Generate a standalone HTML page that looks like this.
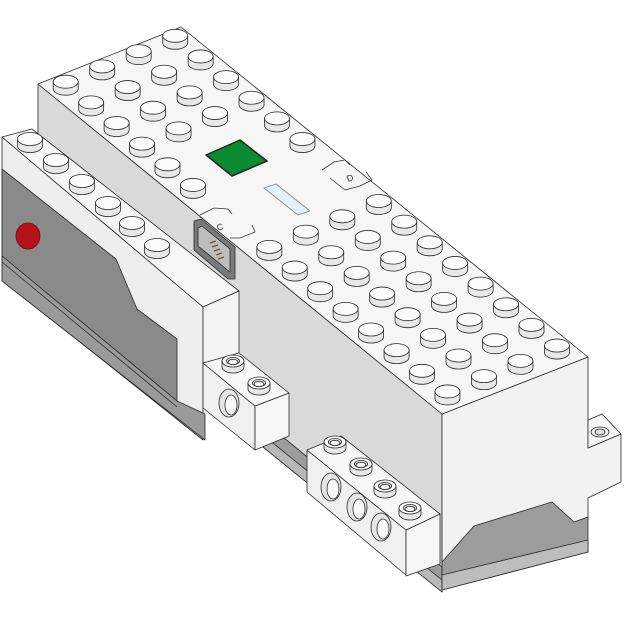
<!DOCTYPE html>
<html><head><meta charset="utf-8"><style>
html,body{margin:0;padding:0;background:#fff;}
svg{display:block;}
text{font-family:"Liberation Sans",sans-serif;}
</style></head><body>
<svg id="art" width="625" height="625" viewBox="0 0 625 625" stroke="#2a2a2a" stroke-width="0.8" stroke-linejoin="round">
  <!-- gray base under main front -->
  <polygon points="200,369 442,567 442,592 200,396" fill="#9c9c9c"/>
  <polygon points="200,384 442,580 442,592 200,396" fill="#b8b8b8"/>
  <!-- main block -->
  <polygon points="38,84 442,414 442,567 38,237" fill="#d9d9d9"/>
  <polygon points="442,414 588,357 588,448 621,434 621,482 588,498 588,520 442,580" fill="#f2f2f2"/>
  <polygon points="442,562 474,526 552,502 574,522 588,517 588,552 442,590" fill="#9c9c9c"/>
  <polygon points="442,575 588,540 588,552 442,590" fill="#bdbdbd"/>
  <polygon points="588,420 602,414 621,434 588,448" fill="#f6f6f6"/>
  <ellipse cx="600" cy="432" rx="9" ry="5" fill="#f4f4f4"/>
  <ellipse cx="600" cy="432" rx="5" ry="3" fill="#e0e0e0"/>
  <polygon points="38,84 181,27 588,357 442,414" fill="#f6f6f6"/>
  <g id="studs"></g>
  <polygon points="206,155 240,140 267,161 232,176" fill="#0b8a32" stroke="#222" stroke-width="1.5"/>
  <polygon points="264,188 276,184 310,211 298,215" fill="#e4f2f8" stroke="#888"/>
  <g fill="none" stroke="#333" stroke-width="0.8">
    <polyline points="322,170 334,162 345,160 350,165"/>
    <polyline points="330,178 345,190 360,186 372,180 366,172"/>
    <text x="348" y="182" font-size="9" fill="#333" stroke="none" transform="rotate(-20 348 182)">D</text>
  </g>
  <g fill="none" stroke="#333" stroke-width="0.8">
    <polyline points="200,215 214,208 228,209 232,214"/>
    <polyline points="230,238 240,238 255,232 252,225"/>
    <text x="218" y="231" font-size="9" fill="#333" stroke="none" transform="rotate(-20 218 231)">C</text>
  </g>
  <polygon points="194,221 201,219 235,247 235,279 228,279 194,250" fill="#7a7a7a"/>
  <polygon points="198,228 202,226 230,249 230,272 198,246" fill="#bdbdbd"/>
  <g stroke="#6b5a2a" stroke-width="1.2">
    <line x1="210" y1="243" x2="216" y2="241"/><line x1="212" y1="247" x2="218" y2="245"/>
    <line x1="214" y1="251" x2="220" y2="249"/><line x1="216" y1="255" x2="222" y2="253"/>
    <line x1="218" y1="259" x2="224" y2="257"/>
  </g>
  <!-- left module -->
  <polygon points="2,137 203,307 203,440 2,280" fill="#eeeeee"/>
  <polygon points="2,169 116,259 137,309 177,339 177,401 2,256" fill="#8a8a8a"/>
  <polygon points="2,256 177,401 205,414 205,440 2,281" fill="#9a9a9a"/>
  <line x1="2" y1="262" x2="177" y2="407"/>
  <polygon points="2,137 32,129 239,291 203,307" fill="#f6f6f6"/>
  <polygon points="203,307 239,291 239,355 203,365" fill="#f4f4f4"/>
  <ellipse cx="28" cy="236" rx="12" ry="13" fill="#b5121b" stroke="#7a0a10"/>
  <g id="modstuds"></g>
  <!-- small technic brick -->
  <polygon points="203,363 255,406 255,450 203,408" fill="#f0f0f0"/>
  <polygon points="255,406 289,393 289,436 255,450" fill="#f6f6f6"/>
  <polygon points="203,363 239,353 289,393 255,406" fill="#f8f8f8"/>
  <ellipse cx="229" cy="403" rx="10" ry="14" fill="#e4e4e4"/>
  <ellipse cx="231" cy="405" rx="6" ry="10" fill="#f8f8f8"/>
  <g id="smallstuds"></g>
  <!-- right technic brick -->
  <polygon points="307,450 406,530 406,575 307,492" fill="#f0f0f0"/>
  <polygon points="406,530 440,514 440,564 406,576" fill="#f6f6f6"/>
  <polygon points="307,450 341,436 440,514 406,530" fill="#f8f8f8"/>
  <g id="holes"></g>
  <g id="techstuds"></g>
</svg>
<script>
const NS='http://www.w3.org/2000/svg';
function mk(tag,attrs,parent){const e=document.createElementNS(NS,tag);for(const k in attrs)e.setAttribute(k,attrs[k]);parent.appendChild(e);return e;}
function stud(g,cx,cy,rx,ry,h,hollow){
  const grp=mk('g',{},g);
  
  
  mk('path',{d:`M${cx-rx},${cy} L${cx-rx},${cy+h} A${rx} ${ry} 0 0 0 ${cx+rx},${cy+h} L${cx+rx},${cy} Z`,fill:'#e8e8e8'},grp);
  mk('ellipse',{cx:cx,cy:cy,rx:rx,ry:ry,fill:'#fbfbfb'},grp);
  if(hollow){mk('ellipse',{cx:cx,cy:cy,rx:rx*0.6,ry:ry*0.6,fill:'#e6e6e6'},grp);mk('ellipse',{cx:cx,cy:cy+1,rx:rx*0.45,ry:ry*0.45,fill:'#f8f8f8'},grp);}
}
const mainRows=[[0,1,2,3,4,5,8,9,10,11,12,13,14,15],[0,1,2,3,8,9,10,11,12,13,14,15],[0,1,2,3,8,9,10,11,12,13,14,15],[0,1,2,3,4,5,8,9,10,11,12,13,14,15]];
const sg=document.getElementById('studs');
for(let u=3;u>=0;u--){for(const v of mainRows[u]){
  stud(sg,65.7+36.5*u+25.45*v,81.7-15.3*u+20.65*v,12.5,6.5,7,false);
}}
const modX=[30,56,82,108,132,157],modY=[139,160,181,203,223,245];
const mg=document.getElementById('modstuds');
for(let i=0;i<modX.length;i++)stud(mg,modX[i],modY[i],12.5,6.5,7,false);
const smX=[233,259],smY=[361,383];
const ssg=document.getElementById('smallstuds');
for(let i=0;i<2;i++)stud(ssg,smX[i],smY[i],11,6,6,true);
const tX=[335,361,385,410],tY=[442,464,486,508];
const tg=document.getElementById('techstuds');
for(let i=0;i<4;i++)stud(tg,tX[i],tY[i],11,6,6,true);
const hX=[331,357,381],hY=[487,507,527];
const hg=document.getElementById('holes');
for(let i=0;i<3;i++){
  const e=mk('ellipse',{cx:hX[i],cy:hY[i],rx:10,ry:14,fill:'#e4e4e4'},hg);
  
  
  mk('ellipse',{cx:hX[i]+2,cy:hY[i]+2,rx:6,ry:10,fill:'#f8f8f8'},hg);
}
</script>
</body></html>
